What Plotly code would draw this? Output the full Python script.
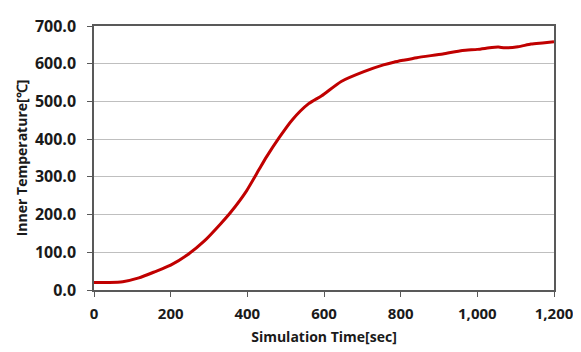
import plotly.graph_objects as go

time_sec = [0, 40, 75, 117, 160, 200, 245, 288, 330, 355, 398, 432, 450, 483, 517,
            560, 594, 645, 704, 755, 782, 806, 842, 910, 961, 1000, 1038, 1055, 1072,
            1106, 1140, 1170, 1200]
inner_temp = [20, 20, 22, 32, 49, 66, 94, 130, 175, 204, 263, 322, 353, 404, 451,
              494, 515, 553, 579, 597, 604, 609, 616, 626, 635, 638, 643, 644, 642,
              645, 652, 655, 658]

fig = go.Figure()
fig.add_trace(go.Scatter(
    x=time_sec, y=inner_temp, mode="lines",
    line=dict(color="#c00000", width=3, shape="spline", smoothing=0.6),
    showlegend=False, hoverinfo="skip"))

font_family = "Open Sans, Liberation Sans, sans-serif"
fig.update_layout(
    width=573, height=344,
    margin=dict(l=86, r=18, t=7, b=62),
    paper_bgcolor="white", plot_bgcolor="white",
    font=dict(family=font_family, color="#1a1a1a"),
)
fig.update_xaxes(
    range=[0, 1200], tickvals=[0, 200, 400, 600, 800, 1000, 1200],
    tickformat=",d", showgrid=False, zeroline=False,
    showline=True, linecolor="#595959", linewidth=1.5, mirror=True,
    ticks="outside", ticklen=5, tickcolor="#595959",
    ticklabelstandoff=4, ticklabeloverflow="allow",
    tickfont=dict(size=15, family=font_family, weight="bold"),
    title=dict(text="Simulation Time[sec]", font=dict(size=14, weight="bold"), standoff=10),
)
fig.update_yaxes(
    range=[0, 700], dtick=100, tickformat=".1f",
    showgrid=True, gridcolor="#bfbfbf", gridwidth=1, zeroline=False,
    showline=True, linecolor="#595959", linewidth=1.5, mirror=True,
    ticks="outside", ticklen=5, tickcolor="#595959",
    ticklabelstandoff=8, ticklabeloverflow="allow",
    tickfont=dict(size=16, family=font_family, weight="bold"),
    title=dict(text="Inner Temperature[℃]", font=dict(size=14, weight="bold"), standoff=4),
)

fig.write_html("out.html")
